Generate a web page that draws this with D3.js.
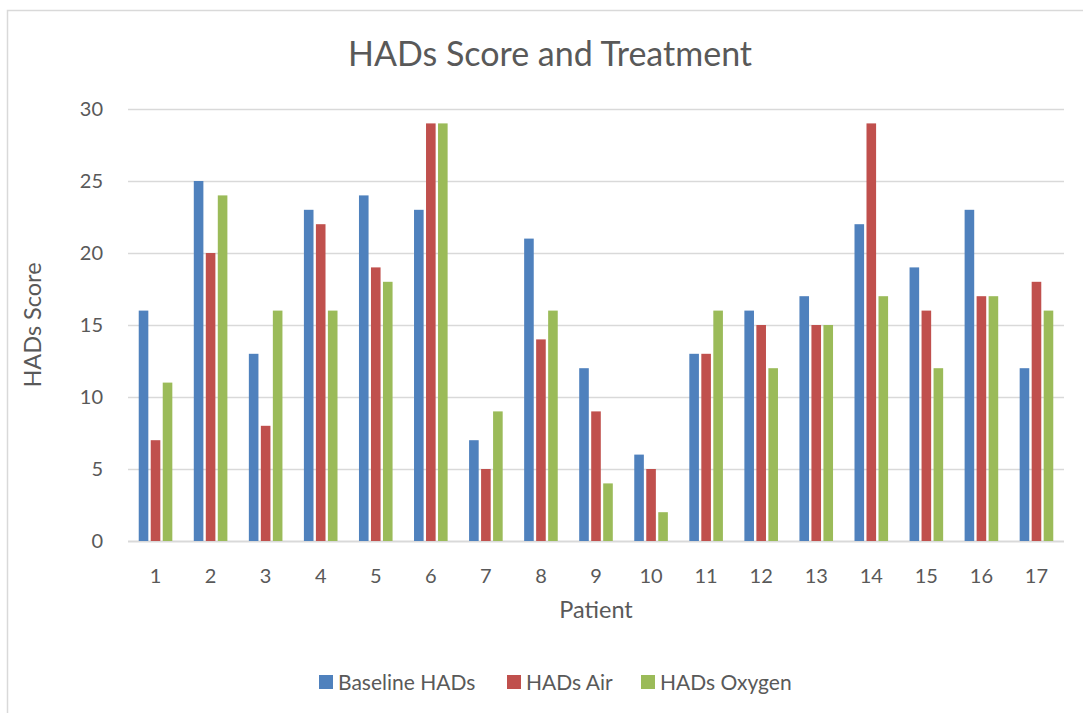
<!DOCTYPE html>
<html>
<head>
<meta charset="utf-8">
<script src="https://cdn.jsdelivr.net/npm/d3@7"></script>
<style>
  body { margin: 0; background: #fff; }
  text { font-family: Lato, "Open Sans", sans-serif; fill: #595959; }
</style>
</head>
<body>
<div id="chart"></div>
<script>
// data
const patients = ["1","2","3","4","5","6","7","8","9","10","11","12","13","14","15","16","17"];
const baselineHADs = [16, 25, 13, 23, 24, 23, 7, 21, 12, 6, 13, 16, 17, 22, 19, 23, 12];
const hadsAir      = [7, 20, 8, 22, 19, 29, 5, 14, 9, 5, 13, 15, 15, 29, 16, 17, 18];
const hadsOxygen   = [11, 24, 16, 16, 18, 29, 9, 16, 4, 2, 16, 12, 15, 17, 12, 17, 16];
const seriesNames = ["Baseline HADs", "HADs Air", "HADs Oxygen"];
const yTicks = [0, 5, 10, 15, 20, 25, 30];

const colors = ["#4F81BD", "#C0504D", "#9BBB59"];
const series = [baselineHADs, hadsAir, hadsOxygen];

const W = 1083, H = 713;
const margin = {top: 109, right: 19, bottom: 172, left: 128};
const width = W - margin.left - margin.right;
const height = H - margin.top - margin.bottom;

const svg = d3.select("#chart").append("svg")
    .attr("width", W)
    .attr("height", H);

// chart frame (only left and top edges visible)
svg.append("path")
    .attr("d", "M7.5,713 V10.5 H1083")
    .attr("fill", "none")
    .attr("stroke", "#d9d9d9")
    .attr("stroke-width", 1.5);

const g = svg.append("g")
    .attr("transform", `translate(${margin.left},${margin.top})`);

const x = d3.scaleBand()
    .domain(patients)
    .range([0, width])
    .paddingInner(0)
    .paddingOuter(0);

const y = d3.scaleLinear()
    .domain([0, 30])
    .range([height, 0]);

const barStep = 12;
const barW = 9.6;

// gridlines
g.selectAll(".grid")
    .data(yTicks)
    .enter()
    .append("line")
    .attr("class", "grid")
    .attr("x1", 0)
    .attr("x2", width)
    .attr("y1", d => Math.round(y(d)) + 0.5)
    .attr("y2", d => Math.round(y(d)) + 0.5)
    .attr("stroke", "#d9d9d9")
    .attr("stroke-width", d => d === 0 ? 2 : 1.5);

// y tick labels
g.selectAll(".ylab")
    .data(yTicks)
    .enter()
    .append("text")
    .attr("x", -25)
    .attr("y", d => y(d))
    .attr("dy", "0.35em")
    .attr("text-anchor", "end")
    .attr("font-size", "20px")
    .text(d => d);

// bars
series.forEach((vals, si) => {
    g.selectAll(".bar" + si)
        .data(vals)
        .enter()
        .append("rect")
        .attr("x", (d, i) => x(patients[i]) + x.bandwidth() / 2 + (si - 1) * barStep - barW / 2)
        .attr("y", d => y(d))
        .attr("width", barW)
        .attr("height", d => height - y(d))
        .attr("fill", colors[si]);
});

// x tick labels
g.selectAll(".xlab")
    .data(patients)
    .enter()
    .append("text")
    .attr("x", d => x(d) + x.bandwidth() / 2)
    .attr("y", height + 42)
    .attr("text-anchor", "middle")
    .attr("font-size", "20px")
    .text(d => d);

// axis titles
svg.append("text")
    .attr("x", margin.left + width / 2)
    .attr("y", 618)
    .attr("text-anchor", "middle")
    .attr("font-size", "23.5px")
    .text("Patient");

svg.append("text")
    .attr("transform", `translate(41,${margin.top + height / 2}) rotate(-90)`)
    .attr("text-anchor", "middle")
    .attr("font-size", "23.5px")
    .text("HADs Score");

// title
svg.append("text")
    .attr("x", 550)
    .attr("y", 66)
    .attr("text-anchor", "middle")
    .attr("font-size", "34px")
    .text("HADs Score and Treatment");

// legend
const legendX = [319, 507, 641];
const legend = svg.selectAll(".legend")
    .data(seriesNames)
    .enter()
    .append("g")
    .attr("transform", (d, i) => `translate(${legendX[i]},675)`);

legend.append("rect")
    .attr("width", 14)
    .attr("height", 14)
    .attr("fill", (d, i) => colors[i]);

legend.append("text")
    .attr("x", 19)
    .attr("y", 7)
    .attr("dy", "0.36em")
    .attr("font-size", "21px")
    .text(d => d);
</script>
</body>
</html>
